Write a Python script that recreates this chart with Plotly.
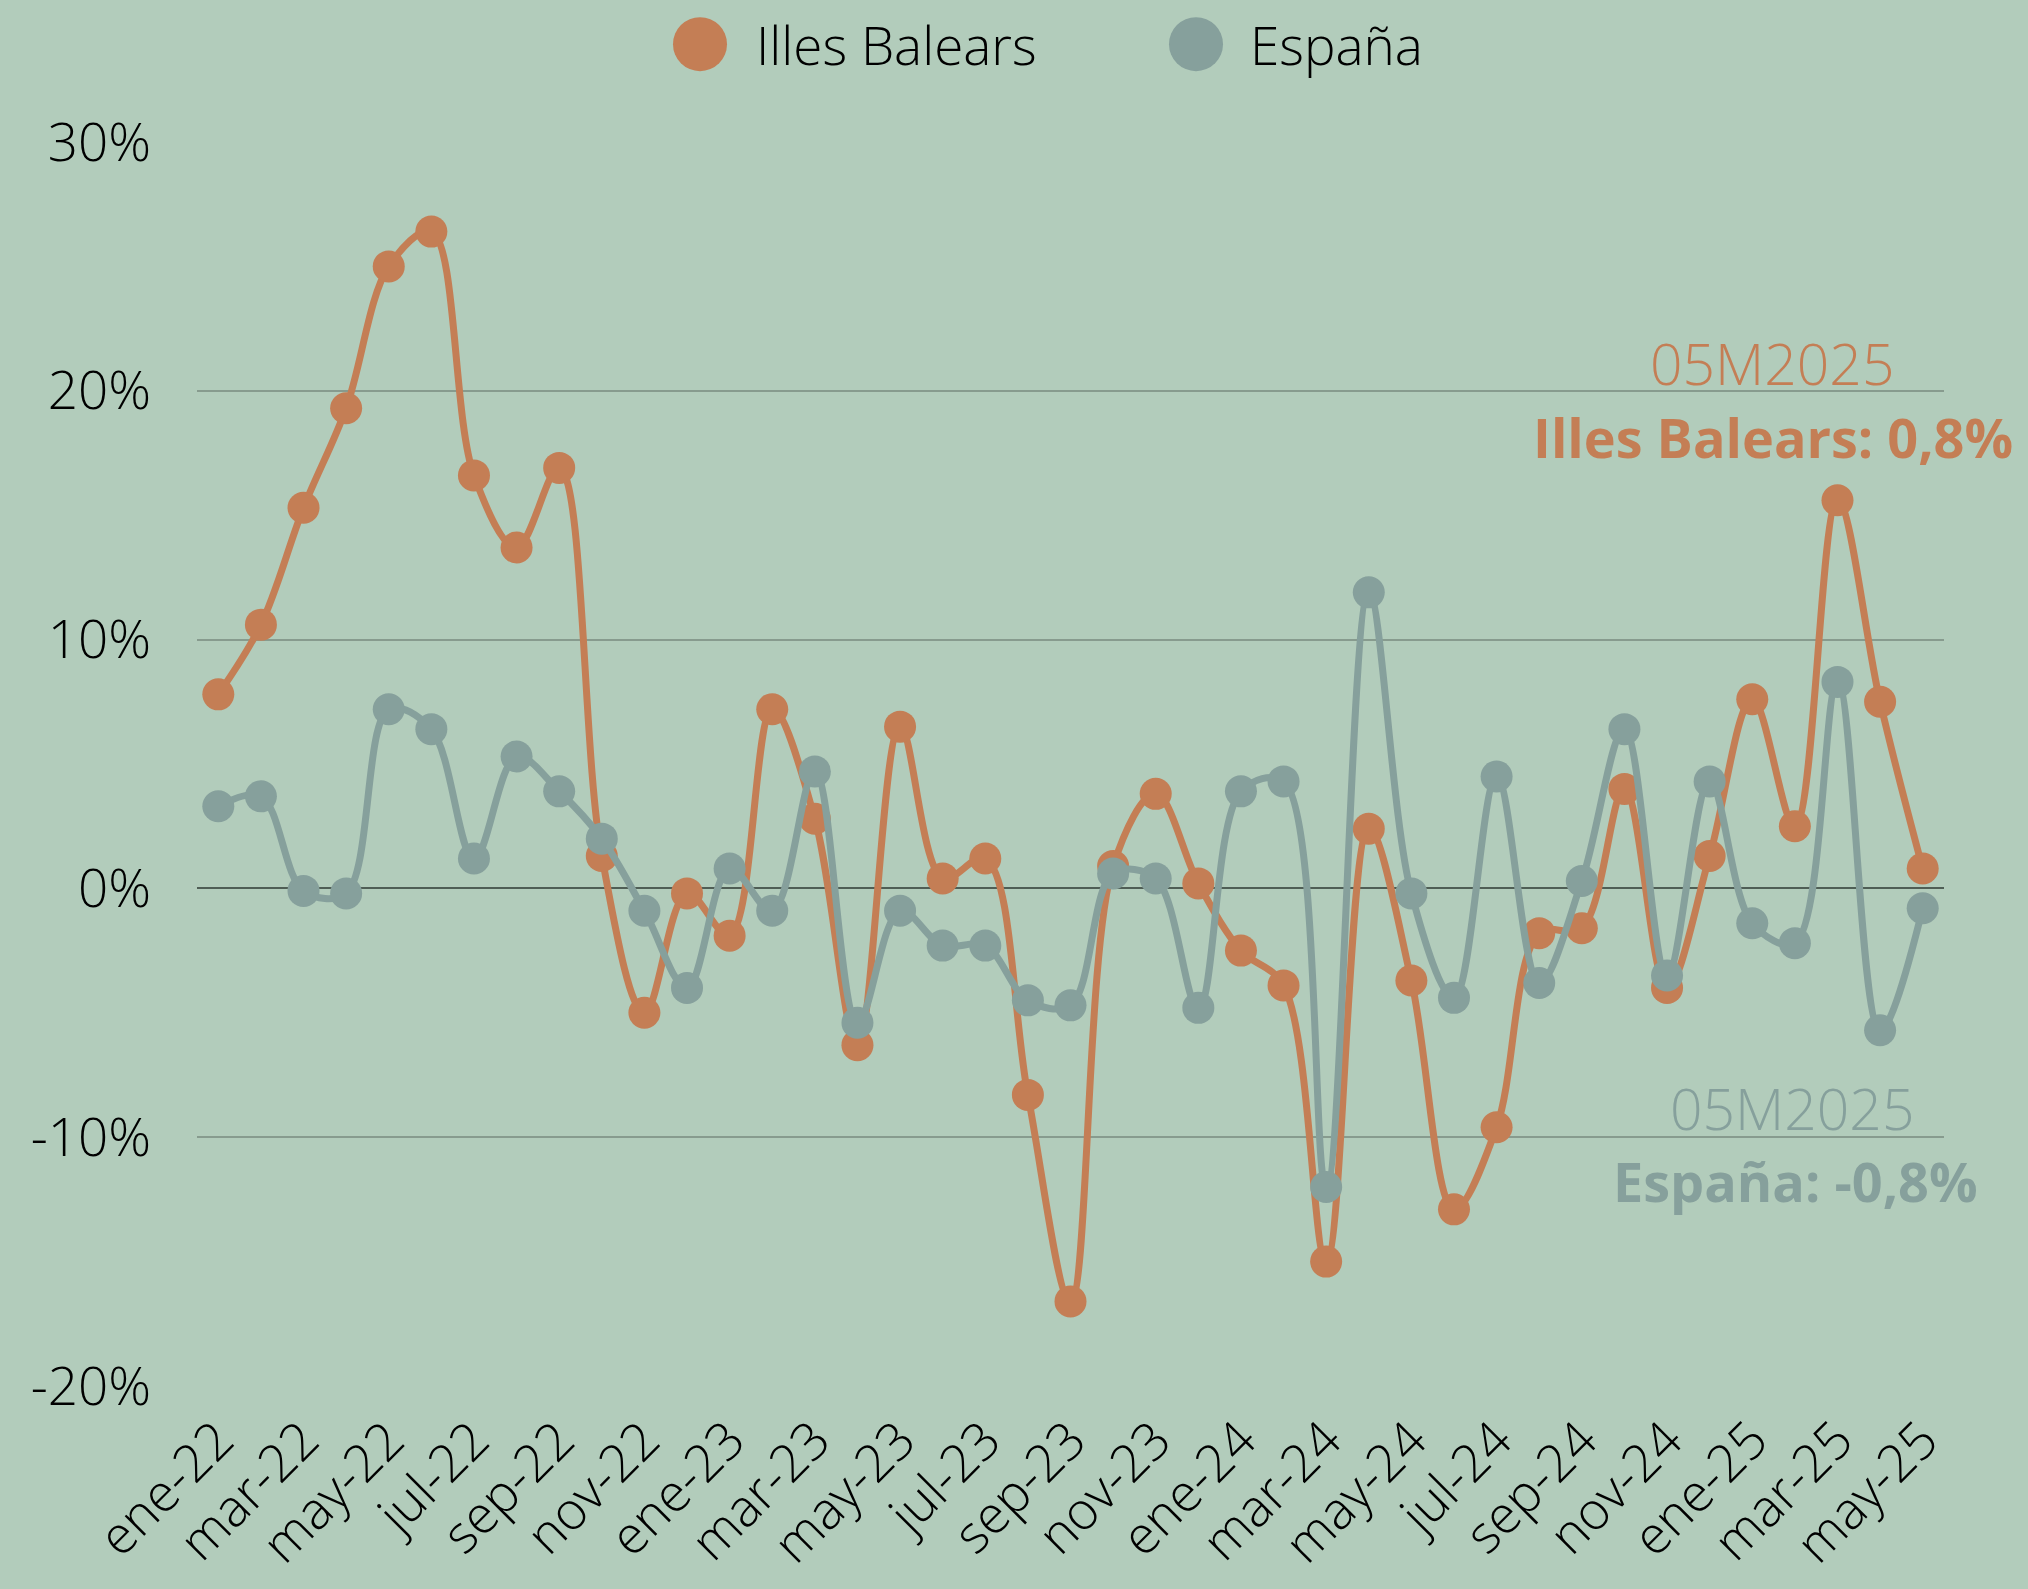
import plotly.graph_objects as go

months = ["ene", "feb", "mar", "abr", "may", "jun", "jul", "ago", "sep", "oct", "nov", "dic"]
categories = [f"{m}-{y}" for y in ["22", "23", "24"] for m in months] + \
             [f"{m}-25" for m in months[:5]]

illes_balears = [7.8, 10.6, 15.3, 19.3, 25.0, 26.4, 16.6, 13.7, 16.9, 1.3, -5.0, -0.2,
                 -1.9, 7.2, 2.8, -6.3, 6.5, 0.4, 1.2, -8.3, -16.6, 0.9, 3.8, 0.2,
                 -2.5, -3.9, -15.0, 2.4, -3.7, -12.9, -9.6, -1.8, -1.6, 4.0, -4.0, 1.3,
                 7.6, 2.5, 15.6, 7.5, 0.8]
espana = [3.3, 3.7, -0.1, -0.2, 7.2, 6.4, 1.2, 5.3, 3.9, 2.0, -0.9, -4.0,
          0.8, -0.9, 4.7, -5.4, -0.9, -2.3, -2.3, -4.5, -4.7, 0.6, 0.4, -4.8,
          3.9, 4.3, -12.0, 11.9, -0.2, -4.4, 4.5, -3.8, 0.3, 6.4, -3.5, 4.3,
          -1.4, -2.2, 8.3, -5.7, -0.8]

y_ticks = [-20, -10, 0, 10, 20, 30]
y_ticktext = ["-20%", "-10%", "0%", "10%", "20%", "30%"]

ORANGE = "#C47E55"
GRAY = "#86A09C"
BG = "#B2CCBB"
FONT = "Open Sans"

fig = go.Figure()
fig.add_trace(go.Scatter(x=categories, y=illes_balears, name="Illes Balears",
                         mode="lines+markers",
                         line=dict(color=ORANGE, width=7, shape="spline", smoothing=1),
                         marker=dict(color=ORANGE, size=32)))
fig.add_trace(go.Scatter(x=categories, y=espana, name="España",
                         mode="lines+markers",
                         line=dict(color=GRAY, width=7, shape="spline", smoothing=1),
                         marker=dict(color=GRAY, size=32)))

fig.update_layout(
    width=2028, height=1589,
    paper_bgcolor=BG, plot_bgcolor=BG,
    margin=dict(l=197, r=84, t=142, b=201),
    showlegend=False,
    font=dict(family=FONT, color="black", size=50, weight=300),
    xaxis=dict(type="category", range=[-0.5, 40.5],
               tickvals=categories[::2], ticktext=categories[::2],
               tickangle=-45, showgrid=False, zeroline=False, showline=False,
               ticks="", ticklabelstandoff=12,
               tickfont=dict(size=52, family=FONT, weight=300)),
    yaxis=dict(range=[-20, 30], tickvals=y_ticks, ticktext=y_ticktext,
               showgrid=True, gridcolor="#879B8E", gridwidth=2,
               zeroline=True, zerolinecolor="#4F5E55", zerolinewidth=2,
               showline=False, ticks="", ticklabelstandoff=45,
               tickfont=dict(size=53, family=FONT, weight=300)),
)

W, H = 1747, 1246
def px(x):
    return (x - 197) / W
def py(y):
    return (1388 - y) / H

# custom legend with large circle symbols
for cx, color, tx, label in [(700, ORANGE, 754, "Illes Balears"), (1196, GRAY, 1248, "España")]:
    fig.add_shape(type="circle", xref="paper", yref="paper",
                  xsizemode="pixel", ysizemode="pixel",
                  xanchor=px(cx), yanchor=py(44),
                  x0=-27, x1=27, y0=-27, y1=27,
                  fillcolor=color, line=dict(width=0))
    fig.add_annotation(xref="paper", yref="paper", x=px(tx), y=py(44),
                       xanchor="left", yanchor="middle", showarrow=False,
                       text=label, font=dict(size=53, family=FONT, color="black", weight=300))

fig.add_annotation(xref="paper", yref="paper", x=px(1896), y=py(363),
                   xanchor="right", yanchor="middle", showarrow=False,
                   text="05M2025", font=dict(size=57, family=FONT, color=ORANGE, weight=300))
fig.add_annotation(xref="paper", yref="paper", x=px(2015), y=py(437),
                   xanchor="right", yanchor="middle", showarrow=False,
                   text=f"<b>Illes Balears: {str(illes_balears[-1]).replace('.', ',')}%</b>",
                   font=dict(size=54, family=FONT, color=ORANGE))
fig.add_annotation(xref="paper", yref="paper", x=px(1916), y=py(1110),
                   xanchor="right", yanchor="middle", showarrow=False,
                   text="05M2025", font=dict(size=57, family=FONT, color=GRAY, weight=300))
fig.add_annotation(xref="paper", yref="paper", x=px(1980), y=py(1183),
                   xanchor="right", yanchor="middle", showarrow=False,
                   text=f"<b>España: {str(espana[-1]).replace('.', ',')}%</b>",
                   font=dict(size=54, family=FONT, color=GRAY))

fig.write_html("out.html",
               config={"displayModeBar": False},
               post_script="document.body.style.margin='0';document.body.style.padding='0';"
                           "document.documentElement.style.overflow='hidden';")
